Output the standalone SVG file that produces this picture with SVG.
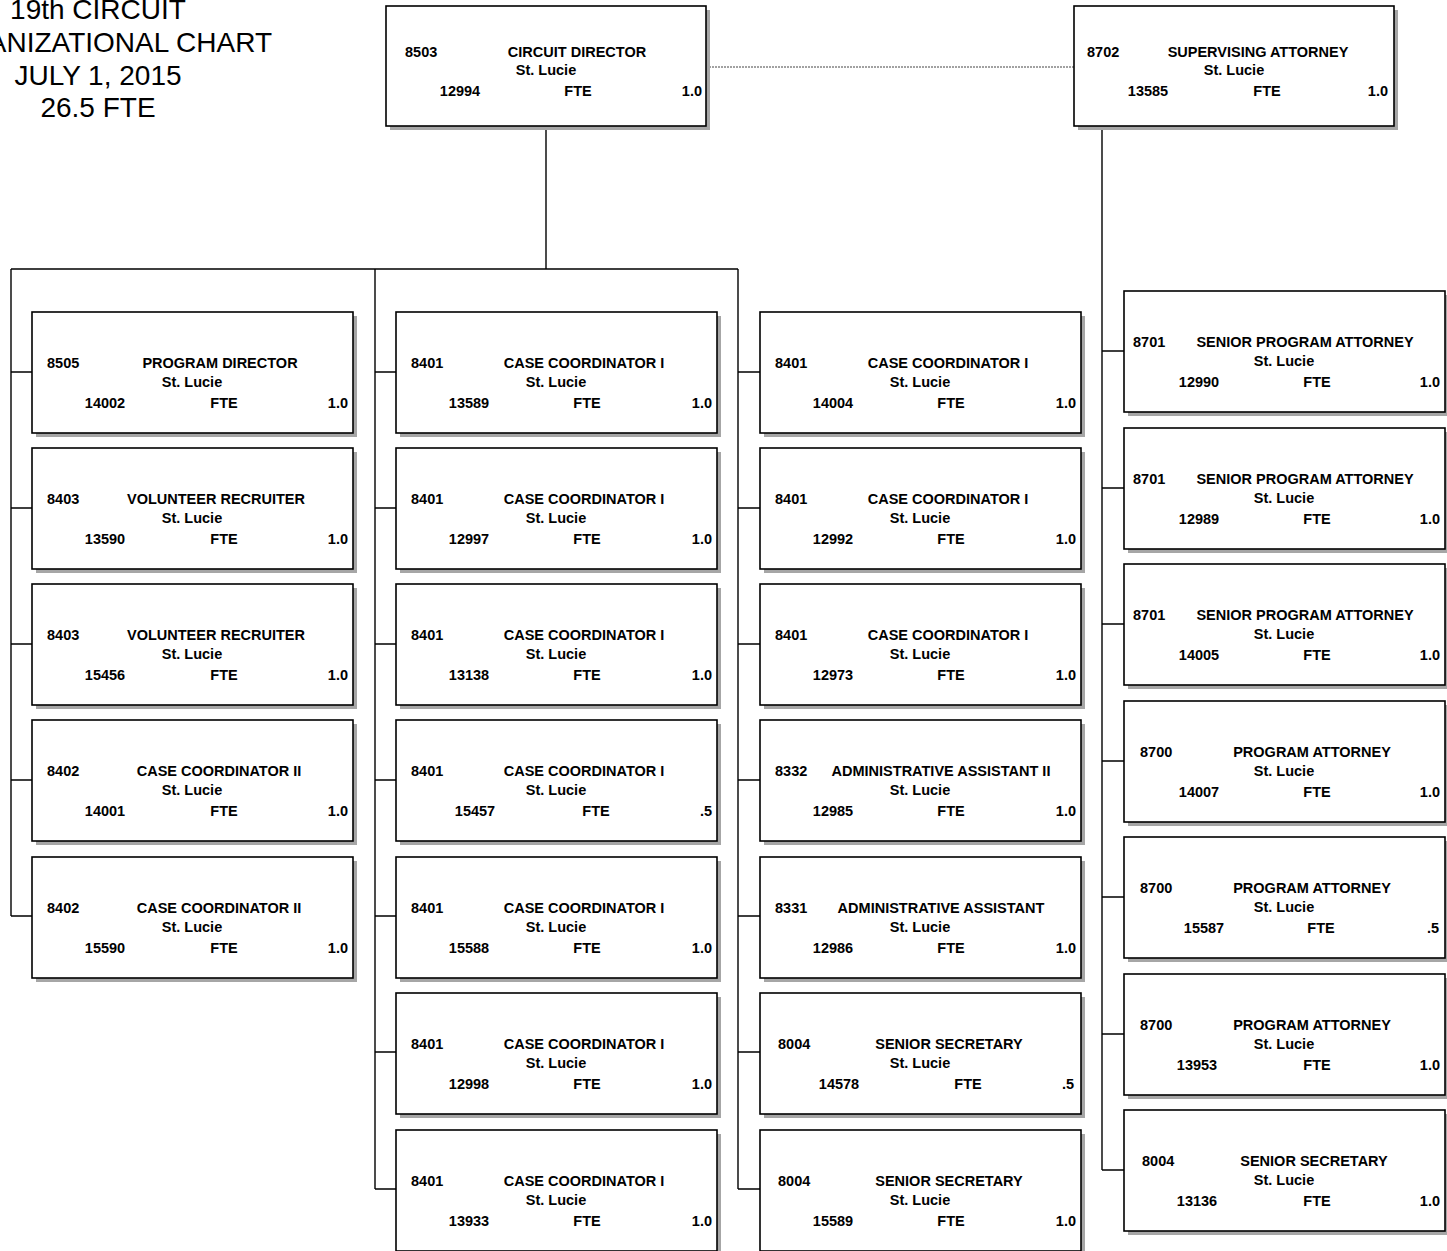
<svg xmlns="http://www.w3.org/2000/svg" width="1447" height="1251" viewBox="0 0 1447 1251">
<style>
  .sh { fill: #a6a6a6; }
  .bx { fill: #ffffff; stroke: #000000; stroke-width: 1.6; }
  .t  { font-family: "Liberation Sans", Arial, sans-serif; font-weight: bold; font-size: 14.5px; fill: #000; }
  .m  { text-anchor: middle; }
  .e  { text-anchor: end; }
  .hd { font-family: "Liberation Sans", Arial, sans-serif; font-size: 28px; fill: #000; text-anchor: middle; }
  .ln { fill: none; stroke: #000; stroke-width: 1.4; }
  .dl { fill: none; stroke: #444; stroke-width: 1; stroke-dasharray: 2 1; }
</style>

<!-- heading -->
<g id="heading">
  <text class="hd" x="98" y="19">19th CIRCUIT</text>
  <text class="hd" x="98" y="52">ORGANIZATIONAL CHART</text>
  <text class="hd" x="98" y="85">JULY 1, 2015</text>
  <text class="hd" x="98" y="117">26.5 FTE</text>
</g>

<!-- reporting lines -->
<g id="connectors">
  <line class="dl" x1="706" y1="67" x2="1074" y2="67"/>
  <path class="ln" d="M546 126 V269 M11 269 H738 M11 269 V916 M375 269 V1189 M738 269 V1189"/>
  <path class="ln" d="M11 372 H32 M11 508 H32 M11 644 H32 M11 780 H32 M11 916 H32"/>
  <path class="ln" d="M375 372 H396 M375 508 H396 M375 644 H396 M375 780 H396 M375 916 H396 M375 1052 H396 M375 1189 H396"/>
  <path class="ln" d="M738 372 H760 M738 508 H760 M738 644 H760 M738 780 H760 M738 916 H760 M738 1052 H760 M738 1189 H760"/>
  <path class="ln" d="M1102 126 V1170 M1102 351 H1124 M1102 488 H1124 M1102 624 H1124 M1102 761 H1124 M1102 897 H1124 M1102 1034 H1124 M1102 1170 H1124"/>
</g>

<!-- top level -->
<g id="n-8503">
  <rect class="sh" x="390" y="10" width="320" height="120"/>
  <rect class="bx" x="386" y="6" width="320" height="120"/>
  <text class="t" x="405" y="57">8503</text>
  <text class="t m" x="577" y="57">CIRCUIT DIRECTOR</text>
  <text class="t m" x="546" y="75">St. Lucie</text>
  <text class="t m" x="460" y="96">12994</text>
  <text class="t m" x="578" y="96">FTE</text>
  <text class="t e" x="702" y="96">1.0</text>
</g>
<g id="n-8702">
  <rect class="sh" x="1078" y="10" width="320" height="120"/>
  <rect class="bx" x="1074" y="6" width="320" height="120"/>
  <text class="t" x="1087" y="57">8702</text>
  <text class="t m" x="1258" y="57">SUPERVISING ATTORNEY</text>
  <text class="t m" x="1234" y="75">St. Lucie</text>
  <text class="t m" x="1148" y="96">13585</text>
  <text class="t m" x="1267" y="96">FTE</text>
  <text class="t e" x="1388" y="96">1.0</text>
</g>

<!-- left column -->
<g id="n-14002" transform="translate(32,312)">
  <rect class="sh" x="4" y="4" width="321" height="121"/><rect class="bx" width="321" height="121"/>
  <text class="t" x="15" y="56">8505</text><text class="t m" x="188" y="56">PROGRAM DIRECTOR</text>
  <text class="t m" x="160" y="75">St. Lucie</text>
  <text class="t m" x="73" y="96">14002</text><text class="t m" x="192" y="96">FTE</text><text class="t e" x="316" y="96">1.0</text>
</g>
<g id="n-13590" transform="translate(32,448)">
  <rect class="sh" x="4" y="4" width="321" height="121"/><rect class="bx" width="321" height="121"/>
  <text class="t" x="15" y="56">8403</text><text class="t m" x="184" y="56">VOLUNTEER RECRUITER</text>
  <text class="t m" x="160" y="75">St. Lucie</text>
  <text class="t m" x="73" y="96">13590</text><text class="t m" x="192" y="96">FTE</text><text class="t e" x="316" y="96">1.0</text>
</g>
<g id="n-15456" transform="translate(32,584)">
  <rect class="sh" x="4" y="4" width="321" height="121"/><rect class="bx" width="321" height="121"/>
  <text class="t" x="15" y="56">8403</text><text class="t m" x="184" y="56">VOLUNTEER RECRUITER</text>
  <text class="t m" x="160" y="75">St. Lucie</text>
  <text class="t m" x="73" y="96">15456</text><text class="t m" x="192" y="96">FTE</text><text class="t e" x="316" y="96">1.0</text>
</g>
<g id="n-14001" transform="translate(32,720)">
  <rect class="sh" x="4" y="4" width="321" height="121"/><rect class="bx" width="321" height="121"/>
  <text class="t" x="15" y="56">8402</text><text class="t m" x="187" y="56">CASE COORDINATOR II</text>
  <text class="t m" x="160" y="75">St. Lucie</text>
  <text class="t m" x="73" y="96">14001</text><text class="t m" x="192" y="96">FTE</text><text class="t e" x="316" y="96">1.0</text>
</g>
<g id="n-15590" transform="translate(32,857)">
  <rect class="sh" x="4" y="4" width="321" height="121"/><rect class="bx" width="321" height="121"/>
  <text class="t" x="15" y="56">8402</text><text class="t m" x="187" y="56">CASE COORDINATOR II</text>
  <text class="t m" x="160" y="75">St. Lucie</text>
  <text class="t m" x="73" y="96">15590</text><text class="t m" x="192" y="96">FTE</text><text class="t e" x="316" y="96">1.0</text>
</g>

<!-- middle column -->
<g id="n-13589" transform="translate(396,312)">
  <rect class="sh" x="4" y="4" width="321" height="121"/><rect class="bx" width="321" height="121"/>
  <text class="t" x="15" y="56">8401</text><text class="t m" x="188" y="56">CASE COORDINATOR I</text>
  <text class="t m" x="160" y="75">St. Lucie</text>
  <text class="t m" x="73" y="96">13589</text><text class="t m" x="191" y="96">FTE</text><text class="t e" x="316" y="96">1.0</text>
</g>
<g id="n-12997" transform="translate(396,448)">
  <rect class="sh" x="4" y="4" width="321" height="121"/><rect class="bx" width="321" height="121"/>
  <text class="t" x="15" y="56">8401</text><text class="t m" x="188" y="56">CASE COORDINATOR I</text>
  <text class="t m" x="160" y="75">St. Lucie</text>
  <text class="t m" x="73" y="96">12997</text><text class="t m" x="191" y="96">FTE</text><text class="t e" x="316" y="96">1.0</text>
</g>
<g id="n-13138" transform="translate(396,584)">
  <rect class="sh" x="4" y="4" width="321" height="121"/><rect class="bx" width="321" height="121"/>
  <text class="t" x="15" y="56">8401</text><text class="t m" x="188" y="56">CASE COORDINATOR I</text>
  <text class="t m" x="160" y="75">St. Lucie</text>
  <text class="t m" x="73" y="96">13138</text><text class="t m" x="191" y="96">FTE</text><text class="t e" x="316" y="96">1.0</text>
</g>
<g id="n-15457" transform="translate(396,720)">
  <rect class="sh" x="4" y="4" width="321" height="121"/><rect class="bx" width="321" height="121"/>
  <text class="t" x="15" y="56">8401</text><text class="t m" x="188" y="56">CASE COORDINATOR I</text>
  <text class="t m" x="160" y="75">St. Lucie</text>
  <text class="t m" x="79" y="96">15457</text><text class="t m" x="200" y="96">FTE</text><text class="t e" x="316" y="96">.5</text>
</g>
<g id="n-15588" transform="translate(396,857)">
  <rect class="sh" x="4" y="4" width="321" height="121"/><rect class="bx" width="321" height="121"/>
  <text class="t" x="15" y="56">8401</text><text class="t m" x="188" y="56">CASE COORDINATOR I</text>
  <text class="t m" x="160" y="75">St. Lucie</text>
  <text class="t m" x="73" y="96">15588</text><text class="t m" x="191" y="96">FTE</text><text class="t e" x="316" y="96">1.0</text>
</g>
<g id="n-12998" transform="translate(396,993)">
  <rect class="sh" x="4" y="4" width="321" height="121"/><rect class="bx" width="321" height="121"/>
  <text class="t" x="15" y="56">8401</text><text class="t m" x="188" y="56">CASE COORDINATOR I</text>
  <text class="t m" x="160" y="75">St. Lucie</text>
  <text class="t m" x="73" y="96">12998</text><text class="t m" x="191" y="96">FTE</text><text class="t e" x="316" y="96">1.0</text>
</g>
<g id="n-13933" transform="translate(396,1130)">
  <rect class="sh" x="4" y="4" width="321" height="121"/><rect class="bx" width="321" height="121"/>
  <text class="t" x="15" y="56">8401</text><text class="t m" x="188" y="56">CASE COORDINATOR I</text>
  <text class="t m" x="160" y="75">St. Lucie</text>
  <text class="t m" x="73" y="96">13933</text><text class="t m" x="191" y="96">FTE</text><text class="t e" x="316" y="96">1.0</text>
</g>

<!-- third column -->
<g id="n-14004" transform="translate(760,312)">
  <rect class="sh" x="4" y="4" width="321" height="121"/><rect class="bx" width="321" height="121"/>
  <text class="t" x="15" y="56">8401</text><text class="t m" x="188" y="56">CASE COORDINATOR I</text>
  <text class="t m" x="160" y="75">St. Lucie</text>
  <text class="t m" x="73" y="96">14004</text><text class="t m" x="191" y="96">FTE</text><text class="t e" x="316" y="96">1.0</text>
</g>
<g id="n-12992" transform="translate(760,448)">
  <rect class="sh" x="4" y="4" width="321" height="121"/><rect class="bx" width="321" height="121"/>
  <text class="t" x="15" y="56">8401</text><text class="t m" x="188" y="56">CASE COORDINATOR I</text>
  <text class="t m" x="160" y="75">St. Lucie</text>
  <text class="t m" x="73" y="96">12992</text><text class="t m" x="191" y="96">FTE</text><text class="t e" x="316" y="96">1.0</text>
</g>
<g id="n-12973" transform="translate(760,584)">
  <rect class="sh" x="4" y="4" width="321" height="121"/><rect class="bx" width="321" height="121"/>
  <text class="t" x="15" y="56">8401</text><text class="t m" x="188" y="56">CASE COORDINATOR I</text>
  <text class="t m" x="160" y="75">St. Lucie</text>
  <text class="t m" x="73" y="96">12973</text><text class="t m" x="191" y="96">FTE</text><text class="t e" x="316" y="96">1.0</text>
</g>
<g id="n-12985" transform="translate(760,720)">
  <rect class="sh" x="4" y="4" width="321" height="121"/><rect class="bx" width="321" height="121"/>
  <text class="t" x="15" y="56">8332</text><text class="t m" x="181" y="56">ADMINISTRATIVE ASSISTANT II</text>
  <text class="t m" x="160" y="75">St. Lucie</text>
  <text class="t m" x="73" y="96">12985</text><text class="t m" x="191" y="96">FTE</text><text class="t e" x="316" y="96">1.0</text>
</g>
<g id="n-12986" transform="translate(760,857)">
  <rect class="sh" x="4" y="4" width="321" height="121"/><rect class="bx" width="321" height="121"/>
  <text class="t" x="15" y="56">8331</text><text class="t m" x="181" y="56">ADMINISTRATIVE ASSISTANT</text>
  <text class="t m" x="160" y="75">St. Lucie</text>
  <text class="t m" x="73" y="96">12986</text><text class="t m" x="191" y="96">FTE</text><text class="t e" x="316" y="96">1.0</text>
</g>
<g id="n-14578" transform="translate(760,993)">
  <rect class="sh" x="4" y="4" width="321" height="121"/><rect class="bx" width="321" height="121"/>
  <text class="t" x="18" y="56">8004</text><text class="t m" x="189" y="56">SENIOR SECRETARY</text>
  <text class="t m" x="160" y="75">St. Lucie</text>
  <text class="t m" x="79" y="96">14578</text><text class="t m" x="208" y="96">FTE</text><text class="t e" x="314" y="96">.5</text>
</g>
<g id="n-15589" transform="translate(760,1130)">
  <rect class="sh" x="4" y="4" width="321" height="121"/><rect class="bx" width="321" height="121"/>
  <text class="t" x="18" y="56">8004</text><text class="t m" x="189" y="56">SENIOR SECRETARY</text>
  <text class="t m" x="160" y="75">St. Lucie</text>
  <text class="t m" x="73" y="96">15589</text><text class="t m" x="191" y="96">FTE</text><text class="t e" x="316" y="96">1.0</text>
</g>

<!-- right column -->
<g id="n-12990" transform="translate(1124,291)">
  <rect class="sh" x="4" y="4" width="321" height="121"/><rect class="bx" width="321" height="121"/>
  <text class="t" x="9" y="56">8701</text><text class="t m" x="181" y="56">SENIOR PROGRAM ATTORNEY</text>
  <text class="t m" x="160" y="75">St. Lucie</text>
  <text class="t m" x="75" y="96">12990</text><text class="t m" x="193" y="96">FTE</text><text class="t e" x="316" y="96">1.0</text>
</g>
<g id="n-12989" transform="translate(1124,428)">
  <rect class="sh" x="4" y="4" width="321" height="121"/><rect class="bx" width="321" height="121"/>
  <text class="t" x="9" y="56">8701</text><text class="t m" x="181" y="56">SENIOR PROGRAM ATTORNEY</text>
  <text class="t m" x="160" y="75">St. Lucie</text>
  <text class="t m" x="75" y="96">12989</text><text class="t m" x="193" y="96">FTE</text><text class="t e" x="316" y="96">1.0</text>
</g>
<g id="n-14005" transform="translate(1124,564)">
  <rect class="sh" x="4" y="4" width="321" height="121"/><rect class="bx" width="321" height="121"/>
  <text class="t" x="9" y="56">8701</text><text class="t m" x="181" y="56">SENIOR PROGRAM ATTORNEY</text>
  <text class="t m" x="160" y="75">St. Lucie</text>
  <text class="t m" x="75" y="96">14005</text><text class="t m" x="193" y="96">FTE</text><text class="t e" x="316" y="96">1.0</text>
</g>
<g id="n-14007" transform="translate(1124,701)">
  <rect class="sh" x="4" y="4" width="321" height="121"/><rect class="bx" width="321" height="121"/>
  <text class="t" x="16" y="56">8700</text><text class="t m" x="188" y="56">PROGRAM ATTORNEY</text>
  <text class="t m" x="160" y="75">St. Lucie</text>
  <text class="t m" x="75" y="96">14007</text><text class="t m" x="193" y="96">FTE</text><text class="t e" x="316" y="96">1.0</text>
</g>
<g id="n-15587" transform="translate(1124,837)">
  <rect class="sh" x="4" y="4" width="321" height="121"/><rect class="bx" width="321" height="121"/>
  <text class="t" x="16" y="56">8700</text><text class="t m" x="188" y="56">PROGRAM ATTORNEY</text>
  <text class="t m" x="160" y="75">St. Lucie</text>
  <text class="t m" x="80" y="96">15587</text><text class="t m" x="197" y="96">FTE</text><text class="t e" x="315" y="96">.5</text>
</g>
<g id="n-13953" transform="translate(1124,974)">
  <rect class="sh" x="4" y="4" width="321" height="121"/><rect class="bx" width="321" height="121"/>
  <text class="t" x="16" y="56">8700</text><text class="t m" x="188" y="56">PROGRAM ATTORNEY</text>
  <text class="t m" x="160" y="75">St. Lucie</text>
  <text class="t m" x="73" y="96">13953</text><text class="t m" x="193" y="96">FTE</text><text class="t e" x="316" y="96">1.0</text>
</g>
<g id="n-13136" transform="translate(1124,1110)">
  <rect class="sh" x="4" y="4" width="321" height="121"/><rect class="bx" width="321" height="121"/>
  <text class="t" x="18" y="56">8004</text><text class="t m" x="190" y="56">SENIOR SECRETARY</text>
  <text class="t m" x="160" y="75">St. Lucie</text>
  <text class="t m" x="73" y="96">13136</text><text class="t m" x="193" y="96">FTE</text><text class="t e" x="316" y="96">1.0</text>
</g>
</svg>
